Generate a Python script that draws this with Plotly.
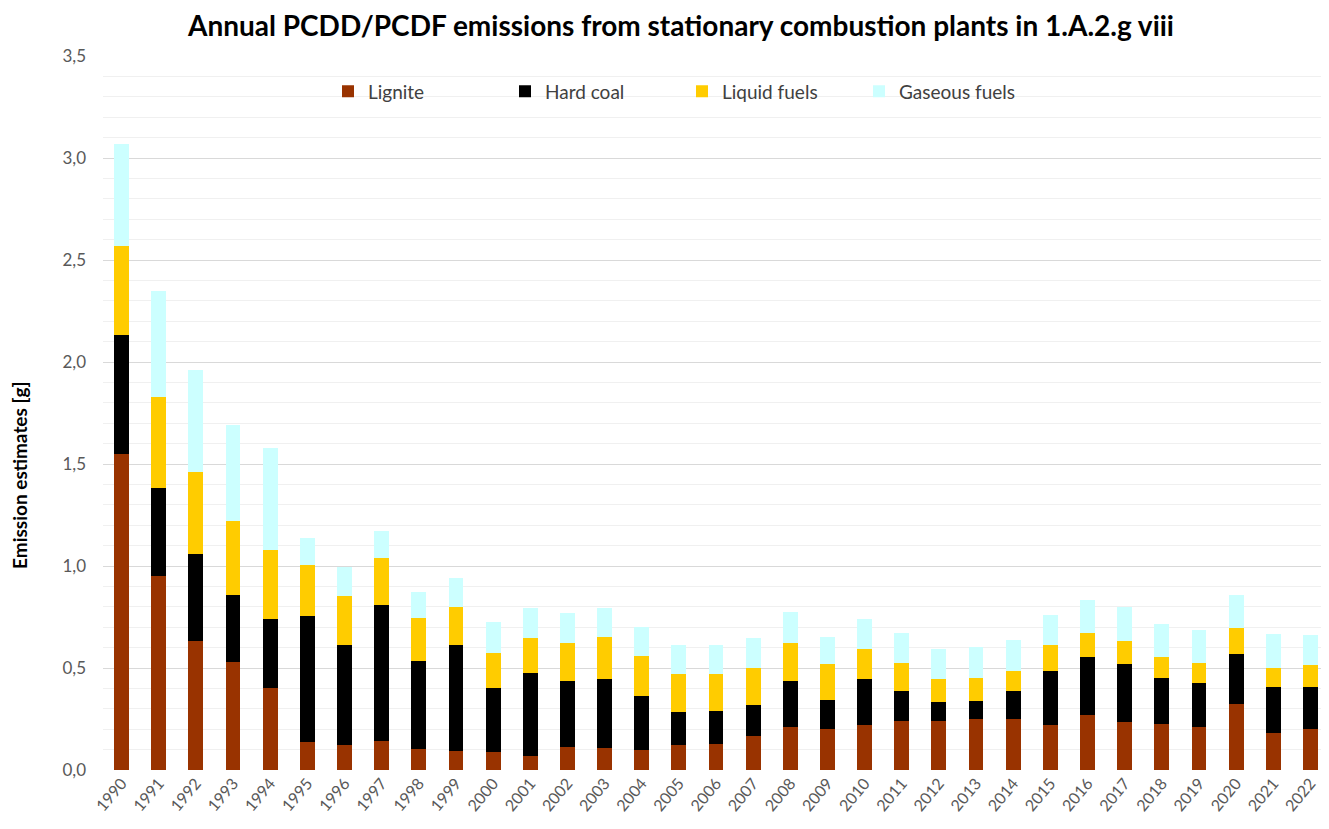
import plotly.graph_objects as go

years = [str(y) for y in range(1990, 2023)]
lignite = [1.55, 0.95, 0.63, 0.53, 0.40, 0.135, 0.125, 0.14, 0.105, 0.095, 0.086, 0.069, 0.114, 0.108, 0.098,
           0.123, 0.127, 0.165, 0.212, 0.203, 0.222, 0.242, 0.242, 0.25, 0.25, 0.219, 0.271, 0.235, 0.227,
           0.212, 0.324, 0.18, 0.203]
hard_coal = [0.58, 0.43, 0.43, 0.33, 0.34, 0.62, 0.49, 0.67, 0.43, 0.52, 0.318, 0.408, 0.324, 0.338, 0.265,
             0.16, 0.162, 0.152, 0.226, 0.142, 0.224, 0.144, 0.091, 0.088, 0.136, 0.266, 0.285, 0.285, 0.224,
             0.216, 0.245, 0.225, 0.202]
liquid = [0.44, 0.45, 0.40, 0.36, 0.34, 0.25, 0.24, 0.23, 0.21, 0.185, 0.172, 0.172, 0.186, 0.206, 0.197,
          0.188, 0.182, 0.181, 0.186, 0.173, 0.146, 0.14, 0.113, 0.113, 0.099, 0.126, 0.114, 0.111, 0.105,
          0.098, 0.129, 0.097, 0.108]
gaseous = [0.50, 0.52, 0.50, 0.47, 0.50, 0.13, 0.14, 0.13, 0.13, 0.14, 0.15, 0.143, 0.146, 0.14, 0.139,
           0.142, 0.142, 0.151, 0.151, 0.134, 0.147, 0.146, 0.149, 0.152, 0.154, 0.15, 0.163, 0.17, 0.161,
           0.16, 0.16, 0.165, 0.147]

series = [
    ("Lignite", lignite, "#993300"),
    ("Hard coal", hard_coal, "#000000"),
    ("Liquid fuels", liquid, "#FFCC00"),
    ("Gaseous fuels", gaseous, "#CCFFFF"),
]

fig = go.Figure()
for name, vals, col in series:
    fig.add_trace(go.Bar(x=years, y=vals, name=name, marker=dict(color=col, line=dict(width=0))))

FONT = "Lato"
OFF = 8  # page body margin
W, H = 1329 - OFF, 829 - OFF
L, R, T, B = 103 - OFF, 0, 56 - OFF, 829 - 770
PW, PH = W - L - R, H - T - B
Y0 = 770 - OFF  # pixel of zero line in figure coords


def px_x(x):
    return (x - OFF - L) / PW


def px_y(y):
    return (Y0 - (y - OFF)) / PH


fig.update_layout(
    barmode="stack",
    bargap=0.6,
    width=W, height=H,
    margin=dict(l=L, r=R, t=T, b=B, autoexpand=False),
    paper_bgcolor="white",
    plot_bgcolor="white",
    separators=", ",
    font=dict(family=FONT, size=17, color="#595959"),
    title=dict(text="<b>Annual PCDD/PCDF emissions from stationary combustion plants in 1.A.2.g viii</b>",
               x=(681 - OFF) / W, xanchor="center", y=1 - (26 - OFF) / H, yanchor="middle",
               font=dict(family=FONT, size=28, color="#000000")),
    legend=dict(orientation="h", x=px_x(328), xanchor="left", y=px_y(100) + 0.012,
                yanchor="middle", bgcolor="rgba(0,0,0,0)",
                font=dict(family=FONT, size=19, color="#404040"),
                entrywidth=132, traceorder="normal"),
    xaxis=dict(tickangle=-50, showgrid=False, showline=False, automargin=False,
               tickfont=dict(family=FONT, size=16, color="#595959")),
    yaxis=dict(range=[0, 3.5], dtick=0.5, tickformat=".1f", showgrid=True, gridcolor="#d9d9d9",
               gridwidth=1, zeroline=False, ticks="", automargin=False, ticklabelstandoff=16,
               tickfont=dict(family=FONT, size=17, color="#595959"),
               minor=dict(dtick=0.1, showgrid=True, gridcolor="#f0f0f0", gridwidth=1)),
    shapes=[dict(type="rect", xref="paper", yref="paper", layer="between",
                 x0=px_x(275), x1=px_x(1090), y0=px_y(124), y1=px_y(84),
                 fillcolor="white", line=dict(width=0))],
    annotations=[dict(text="<b>Emission estimates [g]</b>", xref="paper", yref="paper",
                      x=px_x(19), y=px_y(476), xanchor="center", yanchor="middle",
                      textangle=-90, showarrow=False,
                      font=dict(family=FONT, size=19, color="#000000"))],
)

fig.write_html("out.html")
